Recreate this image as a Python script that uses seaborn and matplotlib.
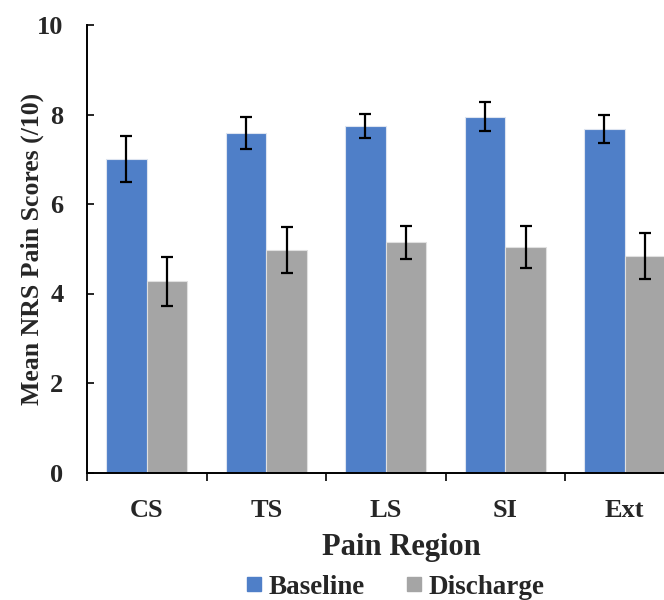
import matplotlib
matplotlib.use("Agg")
import matplotlib.pyplot as plt
from matplotlib.lines import Line2D
import seaborn as sns
import pandas as pd
import numpy as np

# data
regions = ["CS", "TS", "LS", "SI", "Ext"]
baseline = [7.01, 7.59, 7.74, 7.95, 7.68]
baseline_err = [0.51, 0.36, 0.27, 0.32, 0.31]
discharge = [4.27, 4.97, 5.14, 5.04, 4.84]
discharge_err = [0.54, 0.51, 0.37, 0.47, 0.51]

BLUE = "#4F7FC8"
GRAY = "#A5A5A5"

df = pd.DataFrame({
    "Region": regions * 2,
    "Timepoint": ["Baseline"] * 5 + ["Discharge"] * 5,
    "Score": baseline + discharge,
})

sns.set_style("white")
plt.rcParams["font.family"] = ["Liberation Serif", "DejaVu Serif"]
plt.rcParams["font.weight"] = "bold"

fig = plt.figure(figsize=(6.64, 6.0), dpi=100)
# plot area runs past the right edge of the picture, as in the reference
ax = fig.add_axes([87 / 664, 127.5 / 600, 597.5 / 664, 447.5 / 600])

sns.barplot(data=df, x="Region", y="Score", hue="Timepoint",
            palette=[BLUE, GRAY], width=0.68, errorbar=None,
            legend=False, ax=ax, saturation=1)

for bar in ax.patches:
    bar.set_linewidth(0.8)
    bar.set_edgecolor("#DDE4F0" if bar.get_facecolor()[2] > 0.7 else "#E0E0E0")

errs = [baseline_err, discharge_err]
vals = [baseline, discharge]
for cont, v, e in zip(ax.containers, vals, errs):
    xs = [b.get_x() + b.get_width() / 2 for b in cont]
    ax.errorbar(xs, v, yerr=e, fmt="none", ecolor="black",
                elinewidth=1.6, capsize=4.5, capthick=1.6)

ax.set_xlim(-0.5, 4.5)
ax.set_ylim(0, 10)
ax.set_yticks([0, 2, 4, 6, 8, 10])
ax.set_xticks(np.arange(-0.5, 5, 1.0), minor=True)

for side in ["top", "right"]:
    ax.spines[side].set_visible(False)
for side in ["left", "bottom"]:
    ax.spines[side].set_linewidth(1.4)
    ax.spines[side].set_color("black")

ax.tick_params(axis="y", direction="in", length=5, width=1.4,
               labelsize=19, pad=17, left=True)
ax.tick_params(axis="x", which="major", length=0, labelsize=19, pad=19)
ax.tick_params(axis="x", which="minor", direction="out", length=6,
               width=1.4, bottom=True)
for lbl in ax.get_xticklabels() + ax.get_yticklabels():
    lbl.set_fontweight("bold")

ax.set_xlabel("Pain Region", fontsize=22, fontweight="bold")
ax.xaxis.set_label_coords((401 - 87) / 597.5, -0.135)
ax.set_ylabel("Mean NRS Pain Scores (/10)", fontsize=18.5, fontweight="bold")
ax.yaxis.set_label_coords(-0.072, 0.5)

handles = [Line2D([], [], ls="none", marker="s", markersize=9.5,
                  markerfacecolor=c, markeredgecolor=c) for c in (BLUE, GRAY)]
fig.legend(handles, ["Baseline", "Discharge"], loc="center",
           bbox_to_anchor=(395 / 664, 1 - 587 / 600), ncol=2, frameon=False,
           prop={"size": 19.5, "weight": "bold"}, handlelength=0.6,
           handletextpad=0.25, columnspacing=1.5, borderpad=0)

fig.savefig("out.png", dpi=100)
